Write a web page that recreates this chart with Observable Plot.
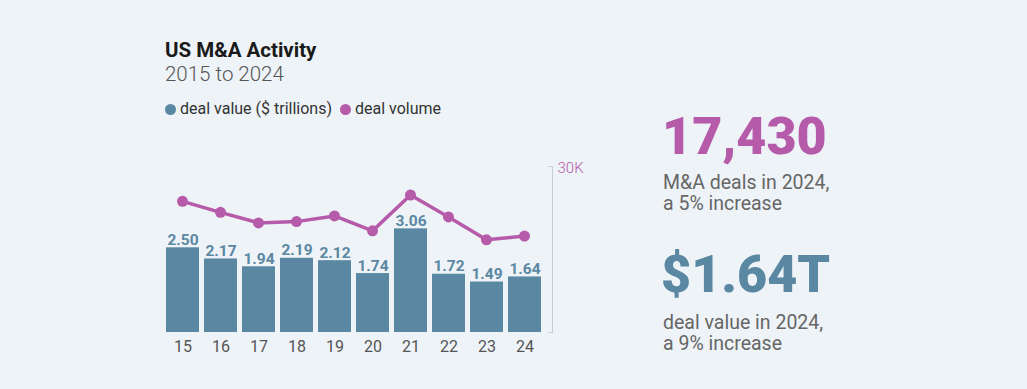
<!DOCTYPE html>
<html>
<head>
<meta charset="utf-8">
<script src="https://cdn.jsdelivr.net/npm/d3@7"></script>
<script src="https://cdn.jsdelivr.net/npm/@observablehq/plot@0.6"></script>
<style>
  html, body { margin: 0; padding: 0; background: #eef3f8; }
  #wrap { position: relative; width: 1027px; height: 389px; background: #eef3f8; font-family: Roboto, "Noto Sans", sans-serif; overflow: hidden; }
  .abs { position: absolute; white-space: nowrap; line-height: 1; }
  .sub { font-size: 19.5px; color: #666; }
  .chart { position: absolute; left: 0; top: 150px; }
  .chart svg { overflow: visible; }
</style>
</head>
<body>
<div id="wrap">
  <div class="abs" style="left:165px; top:40px; font-size:20.5px; font-weight:700; color:#1a1a1a;">US M&amp;A Activity</div>
  <div class="abs" style="left:165px; top:64px; font-size:20.5px; font-weight:300; color:#555;">2015 to 2024</div>
  <div class="abs" style="left:165px; top:101px; font-size:16px; color:#333; display:flex; align-items:center;">
    <span style="display:inline-block; width:11px; height:11px; border-radius:50%; background:#5a87a2; margin-right:4px;"></span>deal value ($ trillions)
    <span style="display:inline-block; width:11px; height:11px; border-radius:50%; background:#b55ba9; margin:0 4px 0 8px;"></span>deal volume
  </div>
  <div class="abs" style="left:662px; top:111px; font-size:52px; font-weight:900; color:#b55ba9;">17,430</div>
  <div class="abs sub" style="left:663px; top:172.5px;">M&amp;A deals in 2024,</div>
  <div class="abs sub" style="left:663px; top:194.2px;">a 5% increase</div>
  <div class="abs" style="left:661px; top:249px; font-size:52px; font-weight:900; color:#5a87a2;">$1.64T</div>
  <div class="abs sub" style="left:663px; top:312.5px;">deal value in 2024,</div>
  <div class="abs sub" style="left:663px; top:334.2px;">a 9% increase</div>
  <div class="chart" id="bars"></div>
  <div class="chart" id="line"></div>
</div>
<script>
const years = ["15", "16", "17", "18", "19", "20", "21", "22", "23", "24"];
const dealValue = [2.50, 2.17, 1.94, 2.19, 2.12, 1.74, 3.06, 1.72, 1.49, 1.64];
const dealVolume = [23700, 21720, 19810, 20040, 21070, 18370, 24850, 20890, 16750, 17430];

const blue = "#5a87a2";
const purple = "#b55ba9";
const data = years.map((year, i) => ({year, value: dealValue[i], volume: dealVolume[i]}));

const bars = Plot.plot({
  width: 600, height: 210,
  marginTop: 16, marginBottom: 28, marginLeft: 159, marginRight: 51,
  style: {background: "transparent", fontFamily: "Roboto, sans-serif"},
  x: {domain: years, padding: 0.14, range: [158.5, 549]},
  y: {domain: [0, 4.9], axis: null},
  marks: [
    Plot.barY(data, {x: "year", y: "value", fill: blue}),
    Plot.text(data, {x: "year", y: "value", text: d => d.value.toFixed(2), dy: -8, fill: blue, fontWeight: 700, fontSize: 15.5}),
    Plot.axisX({tickSize: 0, tickPadding: 8, fontSize: 16, fill: "#555", label: null})
  ]
});
document.getElementById("bars").appendChild(bars);

const line = Plot.plot({
  width: 600, height: 210,
  marginTop: 16, marginBottom: 28, marginLeft: 159, marginRight: 48,
  style: {background: "transparent", fontFamily: "Roboto, sans-serif"},
  x: {type: "point", domain: years, range: [179.5, 526], padding: 0, axis: null},
  y: {domain: [0, 30000]},
  marks: [
    Plot.frame({anchor: "right", stroke: "#c5ccd3"}),
    Plot.ruleY([0, 30000], {insetLeft: 389, stroke: "#c5ccd3"}),
    Plot.line(data, {x: "year", y: "volume", stroke: purple, strokeWidth: 3.5}),
    Plot.dot(data, {x: "year", y: "volume", r: 5.5, fill: purple}),
    Plot.axisY({anchor: "right", ticks: [30000], tickSize: 0, tickPadding: 5, dy: 2, tickFormat: () => "30K", fill: purple, fontSize: 15, fontWeight: 300, label: null})
  ]
});
document.getElementById("line").appendChild(line);
</script>
</body>
</html>
